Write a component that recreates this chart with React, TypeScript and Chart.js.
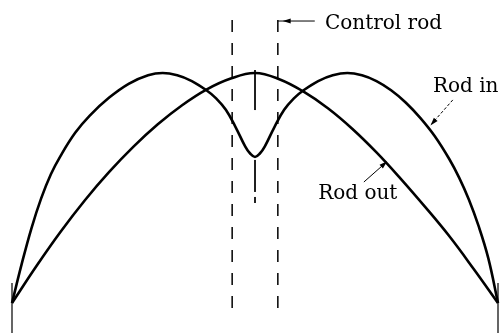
import React, { useEffect, useRef } from "react";
import { Chart, registerables } from "chart.js";

Chart.register(...registerables);

// Position across the core (0..100) and relative flux (peak = 1)
const rodOutX = [0, 5, 10, 15, 20, 25, 30, 35, 40, 45, 50, 55, 60, 65, 70, 75, 80, 85, 90, 95, 100];
const rodOutY = [0, 0.16, 0.31, 0.447, 0.57, 0.68, 0.777, 0.86, 0.928, 0.976, 1.0, 0.973, 0.919, 0.847, 0.758, 0.655, 0.54, 0.418, 0.29, 0.148, 0];

const rodInX = [0, 2, 4, 6, 8, 10, 13, 16, 20, 24, 28, 31, 34, 37, 40, 42, 44, 46, 48, 49, 50, 51, 52, 54, 56, 58, 60, 63, 66, 69, 72, 75, 78, 81, 84, 87, 90, 92, 94, 96, 98, 100];
const rodInY = [0, 0.17, 0.325, 0.455, 0.56, 0.64, 0.74, 0.815, 0.893, 0.953, 0.99, 1.0, 0.99, 0.965, 0.925, 0.89, 0.84, 0.765, 0.68, 0.65, 0.635, 0.65, 0.68, 0.765, 0.84, 0.89, 0.925, 0.965, 0.99, 1.0, 0.99, 0.965, 0.925, 0.872, 0.805, 0.725, 0.625, 0.545, 0.45, 0.335, 0.195, 0];

// Control rod edges and centre line
const rodEdges = [45.3, 54.7];
const rodCenter = 50;
const rodEdgeSpan = [1.23, -0.022];
const centerUpper = [1.013, 0.839];
const centerLower = [0.622, 0.483];
const centerDot = [0.461, 0.435];
// Core boundaries
const coreEnds = [0, 100];
const coreEndSpan = [0.087, -0.13];

const labels = ["Control rod", "Rod in", "Rod out"];

const pts = (xs: number[], ys: number[]) => xs.map((x, i) => ({ x, y: ys[i] }));
const vseg = (x: number, span: number[]) => span.map((y) => ({ x, y }));

export default function App() {
  const ref = useRef<HTMLCanvasElement | null>(null);

  useEffect(() => {
    if (!ref.current) return;

    const annotations = [
      { text: labels[0], tx: 64.4, ty: 1.191, line: [62.3, 1.226, 54.7, 1.226], tip: [55.7, 1.226], dashed: false },
      { text: labels[1], tx: 86.6, ty: 0.917, line: [90.7, 0.883, 86.4, 0.78], tip: [86.1, 0.772], dashed: true },
      { text: labels[2], tx: 63.0, ty: 0.452, line: [72.4, 0.526, 76.9, 0.61], tip: [77.2, 0.616], dashed: false },
    ];

    const annotationPlugin = {
      id: "annot",
      afterDatasetsDraw(chart: any) {
        const { ctx } = chart;
        const xs = chart.scales.x;
        const ys = chart.scales.y;
        ctx.save();
        ctx.fillStyle = "#000";
        ctx.strokeStyle = "#000";
        ctx.font = '20px "DejaVu Serif"';
        ctx.textBaseline = "alphabetic";
        ctx.textAlign = "left";
        for (const a of annotations) {
          ctx.fillText(a.text, xs.getPixelForValue(a.tx), ys.getPixelForValue(a.ty));
          const x1 = xs.getPixelForValue(a.line[0]);
          const y1 = ys.getPixelForValue(a.line[1]);
          const x2 = xs.getPixelForValue(a.line[2]);
          const y2 = ys.getPixelForValue(a.line[3]);
          ctx.lineWidth = 1;
          ctx.setLineDash(a.dashed ? [3, 2] : []);
          ctx.beginPath();
          ctx.moveTo(x1, y1);
          ctx.lineTo(x2, y2);
          ctx.stroke();
          ctx.setLineDash([]);
          const tx = xs.getPixelForValue(a.tip[0]);
          const ty = ys.getPixelForValue(a.tip[1]);
          const ang = Math.atan2(ty - y1, tx - x1);
          const len = 8;
          const hw = 2.5;
          const bx = tx - Math.cos(ang) * len;
          const by = ty - Math.sin(ang) * len;
          ctx.beginPath();
          ctx.moveTo(tx, ty);
          ctx.lineTo(bx - Math.sin(ang) * hw, by + Math.cos(ang) * hw);
          ctx.lineTo(bx + Math.sin(ang) * hw, by - Math.cos(ang) * hw);
          ctx.closePath();
          ctx.fill();
        }
        ctx.restore();
      },
    };

    const thin = (data: any[], dash: number[] = [], width = 1) => ({
      data,
      borderColor: "#000",
      borderWidth: width,
      borderDash: dash,
      pointRadius: 0,
      tension: 0,
      clip: false as any,
    });

    const chart = new Chart(ref.current, {
      type: "line",
      data: {
        datasets: [
          {
            label: "Rod out",
            data: pts(rodOutX, rodOutY),
            borderColor: "#000",
            borderWidth: 2.6,
            pointRadius: 0,
            tension: 0.4,
            clip: false as any,
          },
          {
            label: "Rod in",
            data: pts(rodInX, rodInY),
            borderColor: "#000",
            borderWidth: 2.6,
            pointRadius: 0,
            tension: 0.4,
            clip: false as any,
          },
          thin(vseg(rodEdges[0], rodEdgeSpan), [12, 11], 1.5),
          thin(vseg(rodEdges[1], rodEdgeSpan), [12, 11], 1.5),
          thin(vseg(rodCenter, centerUpper)),
          thin(vseg(rodCenter, centerLower)),
          thin(vseg(rodCenter, centerDot)),
          thin(vseg(coreEnds[0], coreEndSpan), [], 1.2),
          thin(vseg(coreEnds[1], coreEndSpan), [], 1.2),
        ] as any,
      },
      options: {
        animation: false,
        responsive: false,
        maintainAspectRatio: false,
        layout: { padding: { left: 12, right: 4, top: 0, bottom: 0 } },
        plugins: { legend: { display: false }, tooltip: { enabled: false } },
        scales: {
          x: { type: "linear", min: 0, max: 100, display: false },
          y: { type: "linear", min: -0.1304, max: 1.3174, display: false },
        },
      },
      plugins: [annotationPlugin],
    });

    return () => chart.destroy();
  }, []);

  return (
    <div style={{ position: "fixed", left: 0, top: 0, width: 502, height: 333, background: "#fff" }}>
      <canvas ref={ref} width={502} height={333} style={{ width: 502, height: 333, display: "block" }} />
    </div>
  );
}
